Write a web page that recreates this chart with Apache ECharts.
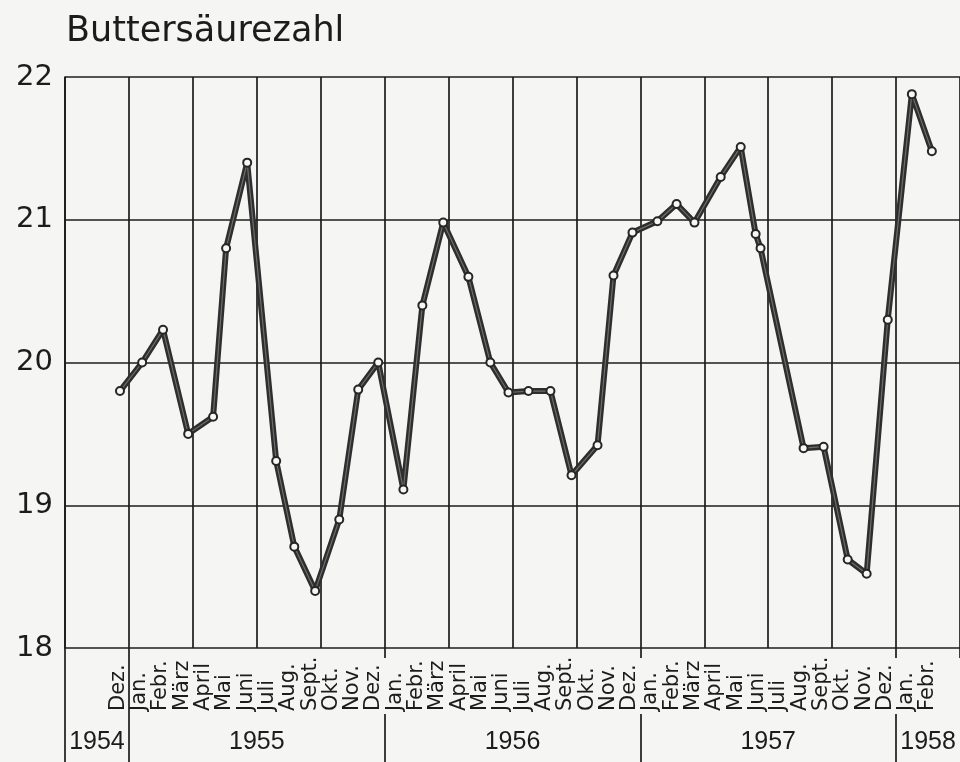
<!DOCTYPE html>
<html>
<head>
<meta charset="utf-8">
<script src="https://cdn.jsdelivr.net/npm/echarts@6/dist/echarts.min.js"></script>
<style>
  html, body { margin: 0; padding: 0; background: #f5f5f3; }
  #chart { width: 960px; height: 762px; }
</style>
</head>
<body>
<div id="chart"></div>
<script>
// Month labels, Dez. 1954 .. Febr. 1958
const months = [
  'Dez.',
  'Jan.','Febr.','März','April','Mai','Juni','Juli','Aug.','Sept.','Okt.','Nov.','Dez.',
  'Jan.','Febr.','März','April','Mai','Juni','Juli','Aug.','Sept.','Okt.','Nov.','Dez.',
  'Jan.','Febr.','März','April','Mai','Juni','Juli','Aug.','Sept.','Okt.','Nov.','Dez.',
  'Jan.','Febr.'
];
// Buttersäurezahl per month
const values = [
  19.80,
  20.00, 20.23, 19.50, 19.62, 20.80, 21.40, 19.31, 18.71, 18.40, 18.90, 19.81, 20.00,
  19.11, 20.40, 20.98, 20.60, 20.00, 19.79, 19.80, 19.80, 19.21, 19.42, 20.61, 20.91,
  20.99, 21.11, 20.98, 21.30, 21.51, 20.90, 20.80, 19.40, 19.41, 18.62, 18.52, 20.30,
  21.88, 21.48
];
// where each sample sits along the month scale (month slots)
const samplePos = [
  2.58,
  3.62, 4.60, 5.78, 6.95, 7.56, 8.55, 9.91, 10.76, 11.74, 12.87, 13.76, 14.70,
  15.88, 16.77, 17.75, 18.93, 19.96, 20.81, 21.75, 22.78, 23.77, 24.99, 25.74, 26.63,
  27.80, 28.70, 29.54, 30.77, 31.71, 32.41, 32.64, 34.66, 35.60, 36.73, 37.62, 38.61,
  39.74, 40.68
];
const years = ['1954', '1955', '1956', '1957', '1958'];
const yTicks = [18, 19, 20, 21, 22];

// ---- derived layout helpers ----
const LEAD = 2, TRAIL = 1;
const slots = months.length + LEAD + TRAIL; // 42
const cats = Array(LEAD).fill('').concat(months, Array(TRAIL).fill(''));
// year boundaries: slot index of each 'Jan.'
const bounds = [0];
months.forEach((m, i) => { if (m === 'Jan.') bounds.push(i + LEAD); });
bounds.push(slots);
const yearCenters = [];
for (let i = 0; i < years.length; i++) yearCenters.push((bounds[i] + bounds[i + 1]) / 2);
const innerBounds = bounds.slice(2, bounds.length - 1); // 15, 27, 39

const data = values.map((v, i) => [samplePos[i], v]);

const INK = '#1c1c1c';
const gridLine = { color: INK, width: 1.7 };

const chart = echarts.init(document.getElementById('chart'), null, { renderer: 'canvas' });
chart.setOption({
  backgroundColor: '#f5f5f3',
  animation: false,
  title: {
    text: 'Buttersäurezahl',
    left: 61, top: 9,
    textStyle: { fontFamily: 'DejaVu Sans', fontSize: 35, fontWeight: 'normal', color: INK }
  },
  grid: { left: 65, right: 0, top: 77, bottom: 114 },
  xAxis: [
    { // vertical grid lines every 3 months
      type: 'value', min: 0, max: slots, interval: 3,
      axisLine: { show: false }, axisTick: { show: false }, axisLabel: { show: false },
      splitLine: { show: true, lineStyle: gridLine }
    },
    { // month labels
      type: 'category', data: cats, boundaryGap: true, position: 'bottom',
      axisLine: { show: false },
      axisTick: {
        show: true, length: 10, lineStyle: gridLine,
        interval: (idx) => innerBounds.indexOf(idx) >= 0
      },
      axisLabel: {
        interval: 0, rotate: 90, align: 'left', verticalAlign: 'middle', margin: 63,
        fontFamily: 'DejaVu Sans', fontSize: 21, color: INK
      },
      splitLine: { show: false }
    },
    { // year row
      type: 'value', min: 0, max: slots, position: 'bottom', offset: 66,
      axisLine: { show: false },
      axisTick: { show: true, customValues: innerBounds, length: 48, lineStyle: gridLine },
      axisLabel: {
        show: true, customValues: yearCenters,
        formatter: (v) => years[yearCenters.indexOf(v)] || '',
        margin: 16, fontFamily: 'Liberation Sans', fontSize: 25, color: INK
      },
      splitLine: { show: false }
    },
    { // full-height separators at the left
      type: 'value', min: 0, max: slots, position: 'bottom',
      axisLine: { show: false },
      axisTick: { show: true, customValues: [bounds[0], bounds[1]], length: 114, lineStyle: gridLine },
      axisLabel: { show: false },
      splitLine: { show: false }
    }
  ],
  yAxis: {
    type: 'value', min: yTicks[0], max: yTicks[yTicks.length - 1], interval: 1,
    axisLine: { show: true, lineStyle: gridLine },
    axisTick: { show: false },
    axisLabel: { fontFamily: 'DejaVu Sans', fontSize: 29, color: INK, margin: 12 },
    splitLine: { show: true, lineStyle: gridLine }
  },
  series: [
    {
      type: 'line', xAxisIndex: 0, data: data, z: 3,
      showSymbol: false, symbol: 'none',
      lineStyle: { color: '#2e2e2e', width: 6, join: 'round', cap: 'round' }
    },
    {
      type: 'line', xAxisIndex: 0, data: data, z: 4,
      symbol: 'circle', symbolSize: 8,
      itemStyle: { color: '#f7f7f5', borderColor: '#262626', borderWidth: 2 },
      lineStyle: { color: '#6e6e6e', width: 1.2 }
    }
  ]
});
</script>
</body>
</html>
